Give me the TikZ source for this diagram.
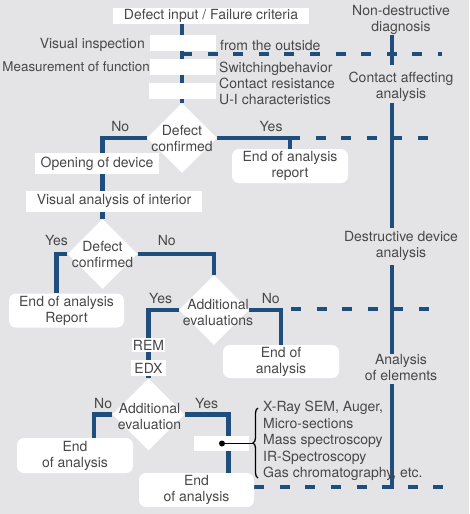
\documentclass[tikz,border=0pt]{standalone}
\usepackage{fontspec}
\setmainfont{TeX Gyre Heros}
\usetikzlibrary{shapes.geometric,decorations.pathreplacing}

\definecolor{flowblue}{RGB}{31,78,124}
\definecolor{paper}{RGB}{228,228,230}
\definecolor{ink}{RGB}{72,72,72}

\pgfdeclarelayer{paperlayer}
\pgfdeclarelayer{linelayer}
\pgfsetlayers{paperlayer,linelayer,main}

\tikzset{
	flow/.style = {line width = 4.5pt, flowblue},
	dashflow/.style = {line width = 4.5pt, flowblue, dash pattern = on 10pt off 15.6pt},
	whitebox/.style = {fill = white, inner sep = 0pt, text = ink, align = center},
	endbox/.style = {whitebox, rounded corners = 7pt, minimum width = 116pt, minimum height = 34pt},
	decision/.style = {diamond, fill = white, inner sep = 0pt, minimum width = 70pt, minimum height = 70pt},
	lbl/.style = {text = ink, inner sep = 0pt, align = center},
	tag/.style = {lbl, anchor = base, yshift = 6.5pt}
}

\begin{document}
\begin{tikzpicture}[x = 1pt, y = -1pt, font = \fontsize{14}{16}\selectfont]
	%	page
	\useasboundingbox (0, 0) rectangle (469, 514);
	\begin{pgfonlayer}{paperlayer}
		\fill[paper] (0, 0) rectangle (469, 514);
	\end{pgfonlayer}
	
	%	main column
	\node[whitebox, minimum width = 196pt, minimum height = 16pt] (input) at (211, 16) {Defect input / Failure criteria};
	\node[whitebox, minimum width = 66pt, minimum height = 16pt] (insp1) at (183, 43) {};
	\node[whitebox, minimum width = 66pt, minimum height = 16pt] (insp2) at (183, 67) {};
	\node[whitebox, minimum width = 67pt, minimum height = 16pt] (insp3) at (182.5, 91) {};
	\node[lbl, anchor = east] (visual) at (145, 45) {Visual inspection};
	\node[lbl, anchor = east, font = \fontsize{13.4}{16}\selectfont] (measure) at (150, 67) {Measurement of function};
	\node[lbl, anchor = west] (outside) at (220, 45) {from the outside};
	\node[lbl, anchor = west, align = left] (checks) at (219, 83.5) {Switchingbehavior\\Contact resistance\\U-I characteristics};
	
	\node[decision] (d1) at (182, 138) {};
	\node[lbl] (d1text) at (d1) {Defect\\confirmed};
	\node[endbox] (rep0) at (290, 166) {End of analysis\\report};
	
	\node[whitebox, minimum width = 124pt, minimum height = 21pt] (open) at (97, 163.5) {Opening of device};
	\node[whitebox, minimum width = 176pt, minimum height = 21pt] (interior) at (114, 201) {Visual analysis of interior};
	
	\node[decision] (d2) at (102.5, 254) {};
	\node[lbl] (d2text) at (d2) {Defect\\confirmed};
	\node[endbox, minimum width = 115pt] (rep1) at (66.5, 310.5) {End of analysis\\Report};
	
	\node[decision] (d3) at (214, 310) {};
	\node[lbl] (d3text) at ([xshift = 4pt, yshift = -2pt]d3.center) {Additional\\evaluations};
	\node[endbox, minimum height = 33pt] (end2) at (281, 361.5) {End of\\analysis};
	
	\node[whitebox, minimum width = 33pt, minimum height = 14pt] (rem) at (148.5, 345) {REM};
	\node[whitebox, minimum width = 35pt, minimum height = 16pt] (edx) at (148.5, 368) {EDX};
	
	\node[decision, minimum width = 72pt, minimum height = 72pt] (d4) at (148.5, 414.5) {};
	\node[lbl] (d4text) at ([xshift = 1pt, yshift = -2pt]d4.center) {Additional\\evaluation};
	\node[endbox, minimum height = 35pt] (end3) at (75, 455.5) {End\\of analysis};
	\node[endbox, minimum width = 115pt] (end4) at (196.5, 490) {End\\of analysis};
	\node[whitebox, minimum width = 55pt, minimum height = 15pt] (cut) at (221.5, 443.5) {};
	
	%	methods
	\node[circle, fill = black, inner sep = 0pt, minimum size = 6pt] (dot) at (222, 443.5) {};
	\coordinate (bracetip) at (253, 443.5);
	\node[lbl, anchor = west, align = left, font = \fontsize{14}{16.5}\selectfont] (methods) at (263, 441) {X-Ray SEM, Auger,\\Micro-sections\\Mass spectroscopy\\IR-Spectroscopy\\Gas chromatography, etc.};
	
	%	right column
	\node[lbl] (nondes) at (401, 20) {Non-destructive\\diagnosis};
	\node[lbl] (contact) at (401, 87) {Contact affecting\\analysis};
	\node[lbl] (destruct) at (401, 246) {Destructive device\\analysis};
	\node[lbl] (elements) at (401, 367) {Analysis\\of elements};
	\coordinate (spine) at (392, 487);
	
	%	dash ends
	\coordinate (tapA) at (182, 54);
	\coordinate (dashA) at (442, 54);
	\coordinate (dashB) at (438, 138);
	\coordinate (dashC) at (430, 309);
	\coordinate (dashD) at (443, 487);
	
	\begin{pgfonlayer}{linelayer}
		%	flow
		\draw[flow] (input.south -| d1) -- (d1.north);
		\draw[flow] (d1.west) -| node[tag, pos = 0.3]{No} (d2.north);
		\draw[flow] (d1.east) -| node[tag, pos = 0.37]{Yes} (rep0.north);
		\draw[flow] (d2.west) -| node[tag, pos = 0.5, yshift = 2.5pt]{Yes} ([xshift = -10pt]rep1.north);
		\draw[flow] (d2.east) -| node[tag, pos = 0.19, yshift = 2.5pt]{No} (d3.north);
		\draw[flow] (d3.west) -| node[tag, pos = 0.3]{Yes} (d4.north);
		\draw[flow] (d3.east) -| node[tag, pos = 0.34]{No} (end2.north);
		\draw[flow] (d4.west) -| node[tag, pos = 0.25]{No} ([xshift = 19pt]end3.north);
		\draw[flow] (d4.east) -| node[tag, pos = 0.25]{Yes} ([xshift = 32pt]end4.north);
		
		%	right column
		\draw[flow] (nondes.south -| spine) -- ([yshift = 7pt]contact.north -| spine);
		\draw[flow] ([yshift = -1pt]contact.south -| spine) -- ([yshift = 3pt]destruct.north -| spine);
		\draw[flow] ([yshift = -4pt]destruct.south -| spine) -- (elements.north -| spine);
		\draw[flow] ([yshift = -4pt]elements.south -| spine) -- ([yshift = -2.25pt]spine);
		
		%	dashed
		\draw[dashflow] (tapA) -- (dashA);
		\draw[dashflow] (rep0.north |- d1.east) -- (dashB);
		\draw[dashflow, dash phase = 15.6pt] (end2.north |- dashC) -- (dashC);
		\draw[dashflow] (end4.east |- spine) -- (dashD);
	\end{pgfonlayer}
	
	%	brace
	\draw[line width = 1.5pt] (dot) -- (bracetip);
	\draw[line width = 1.3pt, decorate, decoration = {brace, amplitude = 5pt}] (258, 478) -- (258, 408);
\end{tikzpicture}
\end{document}
